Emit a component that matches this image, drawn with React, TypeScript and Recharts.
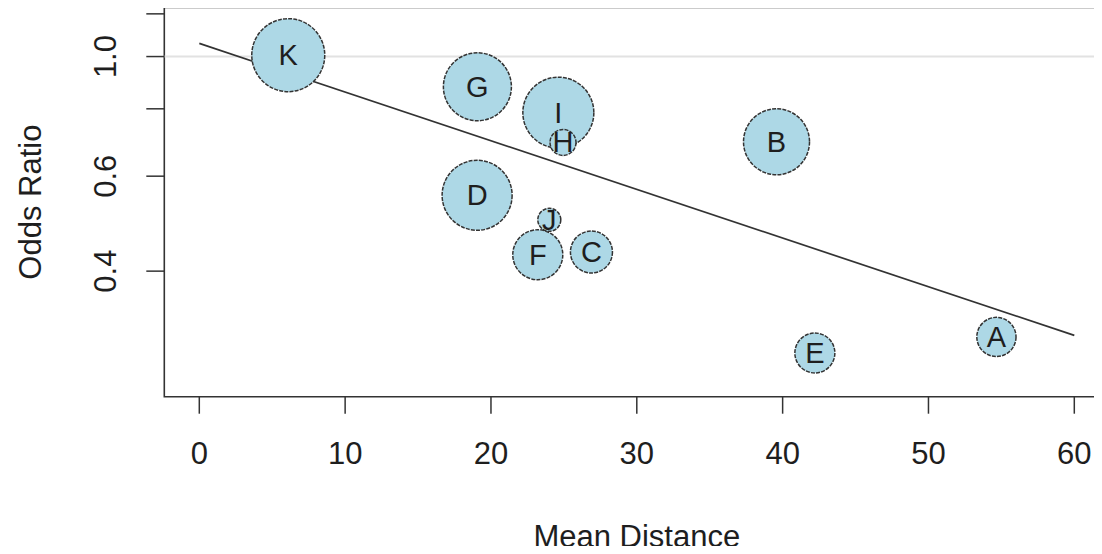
import { ScatterChart, Scatter, XAxis, YAxis, ZAxis, ReferenceLine, ReferenceArea } from 'recharts'

// one bubble per site
const siteNames = ['A', 'B', 'C', 'D', 'E', 'F', 'G', 'H', 'I', 'J', 'K']
const meanDistance = [54.66, 39.58, 26.89, 19.05, 42.21, 23.21, 19.07, 24.94, 24.62, 24.0, 6.1]
const oddsRatio = [0.302, 0.695, 0.434, 0.553, 0.282, 0.429, 0.879, 0.693, 0.787, 0.498, 1.006]
const siteSize = [384, 1089, 441, 1225, 400, 625, 1156, 169, 1260, 132, 1332]

// fitted trend (straight on the log axis)
const fitX = [0, 60]
const fitY = [1.058, 0.304]

const xTicks = [0, 10, 20, 30, 40, 50, 60]
const yTicks = [0.4, 0.6, 0.8, 1.0, 1.2]
const yLabelled = [0.4, 0.6, 1.0]

const X_DOMAIN: [number, number] = [-2.4, 62.4]
const Y_DOMAIN: [number, number] = [0.234, 1.233]

const FONT = '"Liberation Sans", Arial, sans-serif'
const INK = '#1e1e1e'
const LINE = '#333'

// big circles first so the small ones stay on top
const bubbles = siteNames
  .map((name, i) => ({ name, x: meanDistance[i], y: oddsRatio[i], n: siteSize[i] }))
  .sort((a, b) => b.n - a.n)
const fit = fitX.map((x, i) => ({ x, y: fitY[i] }))

function Bubble(props: any) {
  const { cx, cy, payload } = props
  const r = props.width ? props.width / 2 : Math.sqrt(props.size / Math.PI)
  return (
    <g>
      <circle cx={cx} cy={cy} r={r} fill="#ADD8E6" stroke={LINE} strokeWidth={1.5} strokeDasharray="4 1.2" />
      <text x={cx} y={cy} textAnchor="middle" dominantBaseline="central" fontFamily={FONT} fontSize={29} fill={INK}>
        {payload.name}
      </text>
    </g>
  )
}

function XTick({ x, y, payload }: any) {
  return (
    <text x={x} y={y + 38} textAnchor="middle" dominantBaseline="central" fontFamily={FONT} fontSize={31} fill={INK}>
      {payload.value}
    </text>
  )
}

function YTick({ x, y, payload }: any) {
  if (!yLabelled.some(v => Math.abs(v - payload.value) < 1e-6)) return <g />
  const tx = x - 39
  return (
    <text x={tx} y={y} transform={`rotate(-90, ${tx}, ${y})`} textAnchor="middle" dominantBaseline="central" fontFamily={FONT} fontSize={31} fill={INK}>
      {payload.value.toFixed(1)}
    </text>
  )
}

export default function App() {
  return (
    <div style={{ margin: -8, width: 1102, height: 554, overflow: 'hidden', background: '#fff' }}>
      <ScatterChart width={1110} height={554} margin={{ top: 7.5, right: 0.7, bottom: 0, left: 0 }}>
        <XAxis
          type="number"
          dataKey="x"
          domain={X_DOMAIN}
          ticks={xTicks}
          allowDataOverflow
          axisLine={false}
          tickSize={17}
          tickLine={{ stroke: LINE, strokeWidth: 1.5 }}
          tick={<XTick />}
          height={157.3}
          label={({ viewBox }: any) => (
            <text x={viewBox.x + viewBox.width / 2} y={viewBox.y + 139.5} textAnchor="middle" dominantBaseline="central" fontFamily={FONT} fontSize={31} fill={INK}>
              Mean Distance
            </text>
          )}
        />
        <YAxis
          type="number"
          dataKey="y"
          scale="log"
          domain={Y_DOMAIN}
          ticks={yTicks}
          allowDataOverflow
          axisLine={false}
          tickSize={18}
          tickLine={{ stroke: LINE, strokeWidth: 1.5 }}
          tick={<YTick />}
          width={164.3}
          label={({ viewBox }: any) => {
            const cy = viewBox.y + viewBox.height / 2
            return (
              <text x={30.5} y={cy} transform={`rotate(-90, 30.5, ${cy})`} textAnchor="middle" dominantBaseline="central" fontFamily={FONT} fontSize={31} fill={INK}>
                Odds Ratio
              </text>
            )
          }}
        />
        <ZAxis type="number" dataKey="n" domain={[0, 2000]} range={[0, 2000 * Math.PI]} />
        <ReferenceLine y={1} stroke="#e2e2e2" strokeWidth={2} ifOverflow="hidden" />
        <ReferenceArea x1={X_DOMAIN[0]} x2={X_DOMAIN[1]} y1={Y_DOMAIN[0]} y2={Y_DOMAIN[1]} fill="none" stroke={LINE} strokeWidth={1.6} ifOverflow="visible" />
        <Scatter data={fit} line={{ stroke: LINE, strokeWidth: 1.7 }} lineType="joint" shape={() => <g />} isAnimationActive={false} />
        <Scatter data={bubbles} shape={<Bubble />} isAnimationActive={false} />
      </ScatterChart>
    </div>
  )
}
